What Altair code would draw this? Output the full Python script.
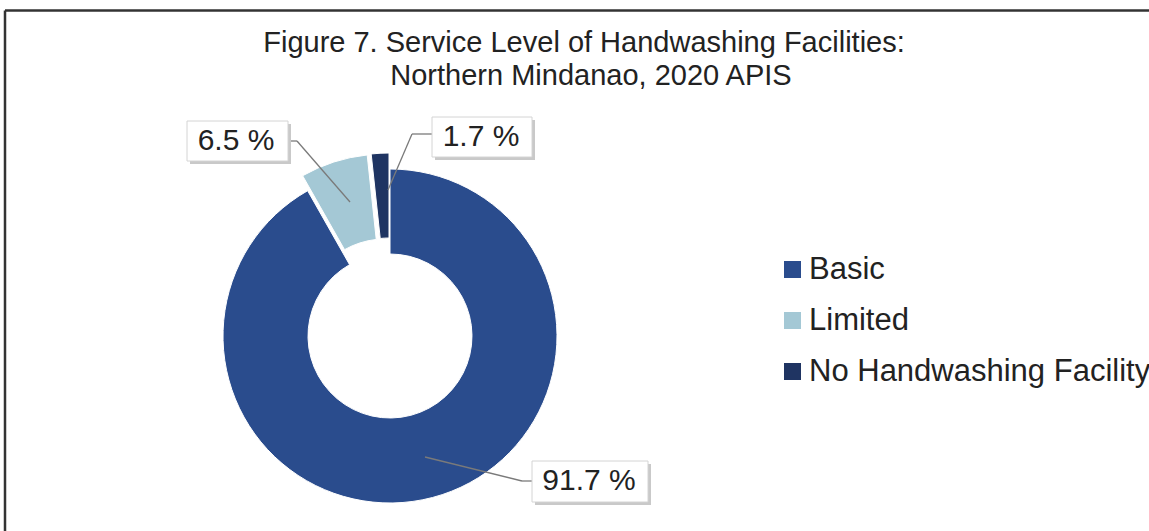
import altair as alt
import pandas as pd

# ---- data ----
categories = ["Basic", "Limited", "No Handwashing Facility"]
shares = [91.7, 6.5, 1.7]
colors = ["#2A4C8D", "#A4C8D5", "#1F3462"]
title_lines = ["Figure 7. Service Level of Handwashing Facilities:",
               "Northern Mindanao, 2020 APIS"]

df = pd.DataFrame({"category": categories, "share": shares})
total = sum(shares)
one = pd.DataFrame({"k": [0]})

W, H = 1149, 531
FONT = "Liberation Sans"
CX, CY = 390, 336
R_OUT, R_IN = 167, 82
TXT = "#222222"

color = alt.Color(
    "category:N",
    scale=alt.Scale(domain=categories, range=colors),
    legend=alt.Legend(
        title=None, orient="none", legendX=777, legendY=254,
        symbolType="square", symbolSize=289, symbolStrokeWidth=0,
        labelFont=FONT, labelFontSize=31, labelColor=TXT,
        labelLimit=1000, labelOffset=1, rowPadding=19, padding=0,
    ),
)


def arc_layer(cat, dx=0, dy=0):
    return (
        alt.Chart(df)
        .transform_window(cum="sum(share)", frame=[None, 0])
        .transform_calculate(start="datum.cum - datum.share")
        .transform_filter(alt.datum.category == cat)
        .mark_arc(outerRadius=R_OUT, innerRadius=R_IN, stroke="white",
                  strokeWidth=1, xOffset=dx, yOffset=dy)
        .encode(
            theta=alt.Theta("start:Q", scale=alt.Scale(domain=[0, total]), stack=None),
            theta2="cum:Q",
            color=color,
            x=alt.value(CX),
            y=alt.value(CY),
        )
    )


def rule(x1, y1, x2, y2, col="#7a7a7a", w=1.3):
    return alt.Chart(one).mark_rule(color=col, strokeWidth=w).encode(
        x=alt.value(x1), y=alt.value(y1), x2=alt.value(x2), y2=alt.value(y2))


def box(x1, y1, x2, y2):
    shadow = alt.Chart(one).mark_rect(color="#c9c9c9").encode(
        x=alt.value(x1 + 3), x2=alt.value(x2 + 3), y=alt.value(y1 + 3), y2=alt.value(y2 + 3))
    face = alt.Chart(one).mark_rect(fill="white", stroke="#d4d4d4", strokeWidth=1).encode(
        x=alt.value(x1), x2=alt.value(x2), y=alt.value(y1), y2=alt.value(y2))
    return [shadow, face]


def label(cat, x, y):
    return (
        alt.Chart(df)
        .transform_filter(alt.datum.category == cat)
        .transform_calculate(lbl="format(datum.share, '.1f') + ' %'")
        .mark_text(font=FONT, fontSize=30, color=TXT, align="center", baseline="middle")
        .encode(x=alt.value(x), y=alt.value(y), text="lbl:N")
    )


title1 = alt.Chart(one).mark_text(font=FONT, fontSize=29, color=TXT, align="center",
                                  baseline="alphabetic").encode(
    x=alt.value(584), y=alt.value(52), text=alt.value(title_lines[0]))
title2 = alt.Chart(one).mark_text(font=FONT, fontSize=29, color=TXT, align="center",
                                  baseline="alphabetic").encode(
    x=alt.value(591), y=alt.value(85), text=alt.value(title_lines[1]))

layers = [
    rule(5, 10.5, W, 10.5, col="#333333", w=2.5),
    rule(5, 10.5, 5, H, col="#333333", w=2.5),
    title1, title2,
    arc_layer("Basic"),
    arc_layer("Limited", -5, -15),
    arc_layer("No Handwashing Facility", -1, -16),
    # leader lines
    rule(288, 141, 297, 141), rule(297, 141, 350, 202),
    rule(432, 134, 412, 134), rule(412, 134, 388, 190),
    rule(532, 481, 522, 481), rule(522, 481, 425, 457),
]
layers += box(187, 121, 288, 161)
layers += box(432, 117, 532, 157)
layers += box(532, 461, 648, 502)
layers += [
    label("Limited", 236, 141),
    label("No Handwashing Facility", 481, 137),
    label("Basic", 589, 481),
]

chart = (
    alt.layer(*layers)
    .properties(width=W, height=H, autosize=alt.AutoSizeParams(type="none"), padding=0,
                background="white")
    .configure_view(stroke=None)
)

chart.save("out.html", embed_options={"renderer": "svg", "actions": False})
